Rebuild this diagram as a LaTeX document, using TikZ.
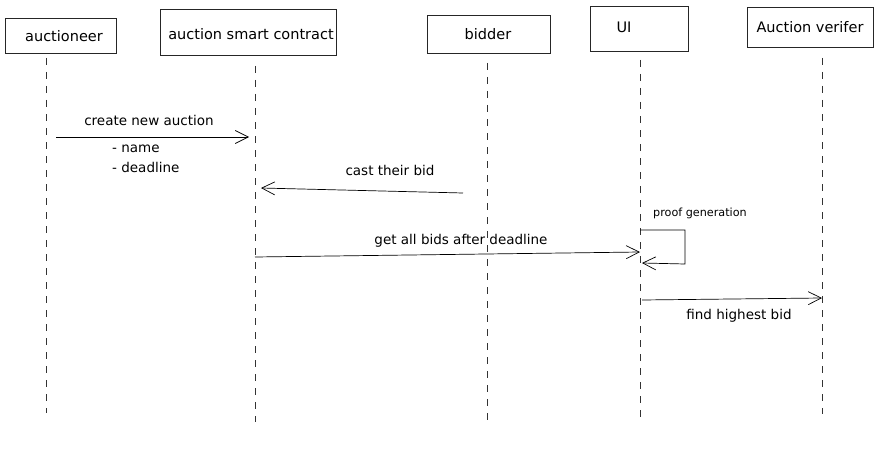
\documentclass[tikz,border=0pt]{standalone}
\usepackage{fontspec}
\setmainfont{DejaVu Sans}
\usetikzlibrary{arrows.meta}
\begin{document}
\begin{tikzpicture}[x=1pt,y=-1pt,
  actor/.style={draw=black!85,line width=0.8pt,inner sep=0pt},
  atext/.style={font=\fontsize{14.5}{16}\selectfont,inner sep=0pt},
  life/.style={draw=black!80,line width=0.6pt,dash pattern=on 7pt off 7pt},
  msg/.style={draw=black,line width=0.7pt,-{Straight Barb[length=13pt,width=13pt,line width=0.7pt]}},
  lbl/.style={font=\fontsize{13.5}{15}\selectfont,inner sep=0pt},
  small/.style={font=\fontsize{11.2}{13}\selectfont,inner sep=0pt}]
\useasboundingbox[fill=white] (0,0) rectangle (895,460);
% actor boxes
\node[actor,minimum width=111pt,minimum height=35pt] (a1) at (60.5,35.5) {};
\node[atext] (a1t) at (64,36) {auctioneer};
\node[actor,minimum width=176pt,minimum height=46pt] (a2) at (248,32) {};
\node[atext] (a2t) at (251,34) {auction smart contract};
\node[actor,minimum width=123pt,minimum height=38pt] (a3) at (488.5,34) {};
\node[atext] (a3t) at (488,34) {bidder};
\node[actor,minimum width=98pt,minimum height=45pt] (a4) at (639,28.5) {};
\node[atext] (a4t) at (624,27) {UI};
\node[actor,minimum width=126pt,minimum height=40pt] (a5) at (810,27) {};
\node[atext] (a5t) at (810,27) {Auction verifer};
% lifeline ends
\coordinate (t1) at (46,58);  \coordinate (b1) at (46,413);
\coordinate (t2) at (255,66); \coordinate (b2) at (255,422);
\coordinate (t3) at (487,63); \coordinate (b3) at (487,421);
\coordinate (t4) at (640,60); \coordinate (b4) at (640,417);
\coordinate (t5) at (822,58); \coordinate (b5) at (822,414);
\draw[life] (t1) -- (b1);
\draw[life] (t2) -- (b2);
\draw[life] (t3) -- (b3);
\draw[life] (t4) -- (b4);
\draw[life] (t5) -- (b5);
% messages
\coordinate (m1s) at (56,137); \coordinate (m1e) at (249,137);
\draw[msg] (m1s) -- (m1e);
\node[lbl] (l1) at (149,120) {create new auction};
\node[lbl,anchor=west] (l1a) at (112,149) {- name};
\node[lbl,anchor=west] (l1b) at (112,167) {- deadline};

\coordinate (m2s) at (463,193); \coordinate (m2e) at (261,188);
\draw[msg] (m2s) -- (m2e);
\node[lbl] (l2) at (390,170) {cast their bid};

\coordinate (m3s) at (255,257); \coordinate (m3e) at (640,252);
\draw[msg] (m3s) -- (m3e);
\node[lbl] (l3) at (461,241) {get all bids after deadline};

\coordinate (s1) at (640,230); \coordinate (s2) at (685,230);
\coordinate (s3) at (685,264); \coordinate (s4) at (642,263);
\draw[msg] (s1) -- (s2) -- (s3) -- (s4);
\node[small,anchor=west] (l4) at (653,213) {proof generation};

\coordinate (m5s) at (642,300); \coordinate (m5e) at (822,298);
\draw[msg] (m5s) -- (m5e);
\node[lbl] (l5) at (739,316) {find highest bid};
\end{tikzpicture}
\end{document}
